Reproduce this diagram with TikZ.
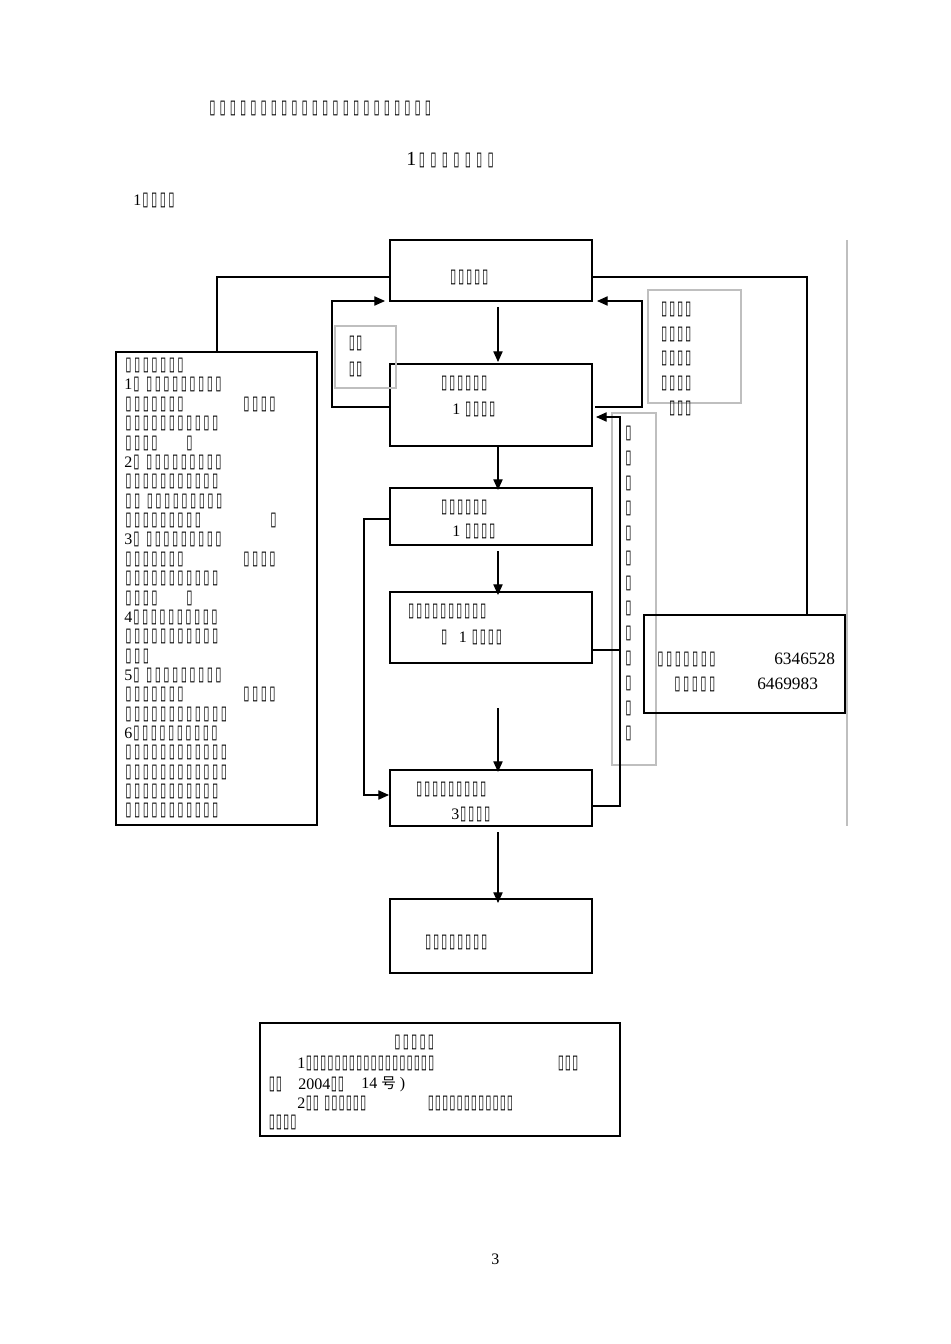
\documentclass[tikz,border=0pt]{standalone}
\usepackage{fontspec}
\setmainfont{Liberation Serif}
\newfontfamily\tf{DejaVu Sans}
\newfontfamily\cjk{Noto Sans CJK SC}
\usetikzlibrary{arrows.meta}
\newlength\tp \setlength\tp{6.5pt}
\newcommand\X{\raisebox{0.3pt}{\scalebox{0.85}[1.45]{\tf\fontsize{10pt}{10pt}\selectfont ▯}}}
\newcommand\T[1]{\foreach\k in {1,...,#1}{\makebox[\tp]{\X}}}
\begin{document}
\begin{tikzpicture}[x=0.75pt,y=-0.75pt,
  t/.style={anchor=west,inner sep=0pt,font=\fontsize{12pt}{12pt}\selectfont},
  bx/.style={draw,line width=0.8pt},
  tb/.style={draw,line width=2.2pt},
  gb/.style={draw=black!25,line width=1pt},
  ln/.style={line width=0.8pt},
  ar/.style={line width=0.8pt,-{Triangle[length=8pt,width=7pt]}}]
\useasboundingbox (0,0) rectangle (950,1344);
% titles
\node[t] (h1) at (207,108) {\setlength\tp{7.7pt}\T{22}};
\node[t,font=\fontsize{15pt}{15pt}\selectfont] (h2) at (406,160) {1\setlength\tp{8.6pt}\T{7}};
\node[t] (h3) at (133,200) {1\T{4}};
% boxes
\draw[bx] (390,240) rectangle (592,301);
\node[t] (at) at (449,277) {\setlength\tp{6pt}\T{5}};
\draw[tb] (390,364) rectangle (592,446);
\node[t] (bt1) at (440,383) {\setlength\tp{6pt}\T{6}};
\node[t] (bt2) at (452,409) {1 \setlength\tp{6pt}\T{4}};
\draw[bx] (390,488) rectangle (592,545);
\node[t] (ct1) at (440,507) {\setlength\tp{6pt}\T{6}};
\node[t] (ct2) at (452,531) {1 \setlength\tp{6pt}\T{4}};
\draw[tb] (390,592) rectangle (592,663);
\node[t] (dt1) at (407,611) {\setlength\tp{6pt}\T{10}};
\node[t] (dt2) at (440,637) {\setlength\tp{6pt}\T{1}\hspace{8pt}1 \T{4}};
\draw[tb] (390,770) rectangle (592,826);
\node[t] (et1) at (415,789) {\setlength\tp{6pt}\T{9}};
\node[t] (et2) at (451,814) {3\setlength\tp{6pt}\T{4}};
\draw[bx] (390,899) rectangle (592,973);
\node[t] (ft) at (424,942) {\setlength\tp{6pt}\T{8}};
% gray boxes
\draw[gb] (335,326) rectangle (396,388);
\node[t] (g1) at (348,343) {\setlength\tp{5.5pt}\T{2}};
\node[t] (g2) at (348,369) {\setlength\tp{5.5pt}\T{2}};
\draw[gb] (648,290) rectangle (741,403);
\foreach \yy/\nm in {309/r1,334/r2,358/r3,383/r4}
  \node[t] (\nm) at (660,\yy) {\setlength\tp{6pt}\T{4}};
\node[t] (r5) at (668,408) {\setlength\tp{6pt}\T{3}};
\draw[gb] (612,413) rectangle (656,765);
\foreach \k in {0,...,12}
  \node[t] (v\k) at (625,433+25*\k) {\X};
\draw[black!25,line width=1pt] (847,240) -- (847,826);
% left box
\draw[bx] (116,352) rectangle (317,825);
\begin{scope}[every node/.style={t}]
\node (L1) at (124,365) {\T{7}};
\node (L2) at (124,384) {1\T{1}\hspace{3pt}\T{9}};
\node (L3) at (124,404) {\T{7}}; \node (L3b) at (242,404) {\T{4}};
\node (L4) at (124,423) {\T{11}};
\node (L5) at (124,443) {\T{4}}; \node (L5b) at (185,443) {\T{1}};
\node (L6) at (124,462) {2\T{1}\hspace{3pt}\T{9}};
\node (L7) at (124,481) {\T{11}};
\node (L8) at (124,501) {\T{2}\hspace{3pt}\T{9}};
\node (L9) at (124,520) {\T{9}}; \node (L9b) at (269,520) {\T{1}};
\node (L10) at (124,539) {3\T{1}\hspace{3pt}\T{9}};
\node (L11) at (124,559) {\T{7}}; \node (L11b) at (242,559) {\T{4}};
\node (L12) at (124,578) {\T{11}};
\node (L13) at (124,598) {\T{4}}; \node (L13b) at (185,598) {\T{1}};
\node (L14) at (124,617) {4\T{10}};
\node (L15) at (124,636) {\T{11}};
\node (L16) at (124,656) {\T{3}};
\node (L17) at (124,675) {5\T{1}\hspace{3pt}\T{9}};
\node (L18) at (124,694) {\T{7}}; \node (L18b) at (242,694) {\T{4}};
\node (L19) at (124,714) {\T{12}};
\node (L20) at (124,733) {6\T{10}};
\node (L21) at (124,752) {\T{12}};
\node (L22) at (124,772) {\T{12}};
\node (L23) at (124,791) {\T{11}};
\node (L24) at (124,810) {\T{11}};
\end{scope}
% phone box
\draw[bx] (644,615) rectangle (845,713);
\node[t] (p1) at (656,659) {\setlength\tp{6.5pt}\T{7}};
\node[t,font=\fontsize{13pt}{13pt}\selectfont] (p1n) at (774,659) {6346528};
\node[t] (p2) at (673,684) {\setlength\tp{6.5pt}\T{5}};
\node[t,font=\fontsize{13pt}{13pt}\selectfont] (p2n) at (757,684) {6469983};
% bottom box
\draw[bx] (260,1023) rectangle (620,1136);
\begin{scope}[every node/.style={t},/utils/exec={\setlength\tp{5.4pt}}]
\node (n0) at (393,1042) {\setlength\tp{6.3pt}\T{5}};
\node (n1) at (297,1063) {1\T{18}};
\node (n1b) at (557,1063) {\T{3}};
\node (n2a) at (268,1084) {\T{2}};
\node (n2b) at (298,1084) {2004\T{2}};
\node (n2c) at (361,1084) {14 {\cjk\fontsize{11pt}{11pt}\selectfont 号} )};
\node (n3) at (297,1103) {2\T{2}\hspace{3pt}\T{6}};
\node (n3b) at (427,1103) {\T{12}};
\node (n4) at (268,1122) {\T{4}};
\end{scope}
\node[t] (pg) at (491,1259) {3};
% connectors
\draw[ln] (390,277) -- (217,277) -- (217,352);
\draw[ln] (592,277) -- (807,277) -- (807,615);
\draw[ar] (498,307) -- (498,362);
\draw[ar] (390,407) -- (332,407) -- (332,301) -- (385,301);
\draw[ar] (595,407) -- (642,407) -- (642,301) -- (597,301);
\draw[ar] (498,446) -- (498,490);
\draw[ar] (498,551) -- (498,595);
\draw[ln] (592,650) -- (620,650);
\draw[ar] (592,806) -- (620,806) -- (620,417) -- (596,417);
\draw[ar] (498,708) -- (498,772);
\draw[ar] (390,519) -- (364,519) -- (364,795) -- (389,795);
\draw[ar] (498,832) -- (498,903);
\end{tikzpicture}
\end{document}
